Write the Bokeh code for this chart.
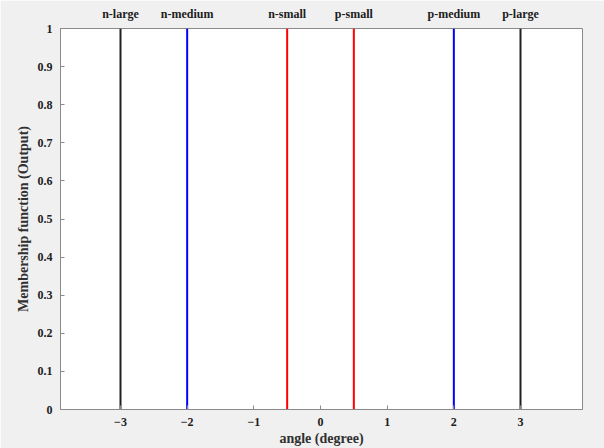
from bokeh.plotting import figure
from bokeh.models import LinearAxis, FixedTicker, Range1d
from bokeh.embed import file_html
from bokeh.resources import INLINE

names = ["n-large", "n-medium", "n-small", "p-small", "p-medium", "p-large"]
positions = [-3, -2, -0.5, 0.5, 2, 3]
colors = ["#202020", "#0000ff", "#ff0000", "#ff0000", "#0000ff", "#202020"]
heights = [1, 1, 1, 1, 1, 1]
xticks = [-3, -2, -1, 0, 1, 2, 3]
yticks = [0, 0.1, 0.2, 0.3, 0.4, 0.5, 0.6, 0.7, 0.8, 0.9, 1]

FONT = "Liberation Serif"

p = figure(width=604, height=448, output_backend="svg", toolbar_location=None,
           x_range=Range1d(-3.9, 3.93), y_range=Range1d(0, 1),
           min_border_left=60, min_border_right=22, min_border_top=28, min_border_bottom=39,
           background_fill_color="white", border_fill_color="#f0f0f0")
p.grid.visible = False
p.outline_line_color = "#8a8a8a"
p.outline_line_width = 1

for x, c, h in zip(positions, colors, heights):
    p.segment(x0=[x], y0=[0], x1=[x], y1=[h], line_color=c, line_width=2)

for ax in [p.xaxis[0], p.yaxis[0]]:
    ax.axis_line_color = "#8a8a8a"
    ax.major_tick_line_color = "#8a8a8a"
    ax.major_tick_in = 4
    ax.major_tick_out = 0
    ax.minor_tick_line_color = None
    ax.major_label_text_font = FONT
    ax.major_label_text_font_style = "bold"
    ax.major_label_text_font_size = "12px"
    ax.major_label_text_color = "#202020"
    ax.axis_label_text_font = FONT
    ax.axis_label_text_font_style = "bold"
    ax.axis_label_text_font_size = "14px"
    ax.axis_label_text_color = "#303030"

p.xaxis.ticker = FixedTicker(ticks=xticks)
p.yaxis.ticker = FixedTicker(ticks=yticks)
p.yaxis.major_label_overrides = {0: "0", 1: "1"}
p.xaxis.major_label_standoff = 8
p.yaxis.major_label_standoff = 8
p.xaxis.axis_label = "angle (degree)"
p.yaxis.axis_label = "Membership function (Output)"
p.xaxis.axis_label_standoff = 2
p.yaxis.axis_label_standoff = 4

top = LinearAxis(ticker=FixedTicker(ticks=positions),
                 major_label_overrides={x: n for x, n in zip(positions, names)})
top.axis_line_color = None
top.major_tick_line_color = None
top.minor_tick_line_color = None
top.major_label_standoff = 2
top.major_label_text_font = FONT
top.major_label_text_font_style = "bold"
top.major_label_text_font_size = "12px"
top.major_label_text_color = "#202020"
p.add_layout(top, "above")

open("out.html", "w").write(file_html(p, INLINE))
